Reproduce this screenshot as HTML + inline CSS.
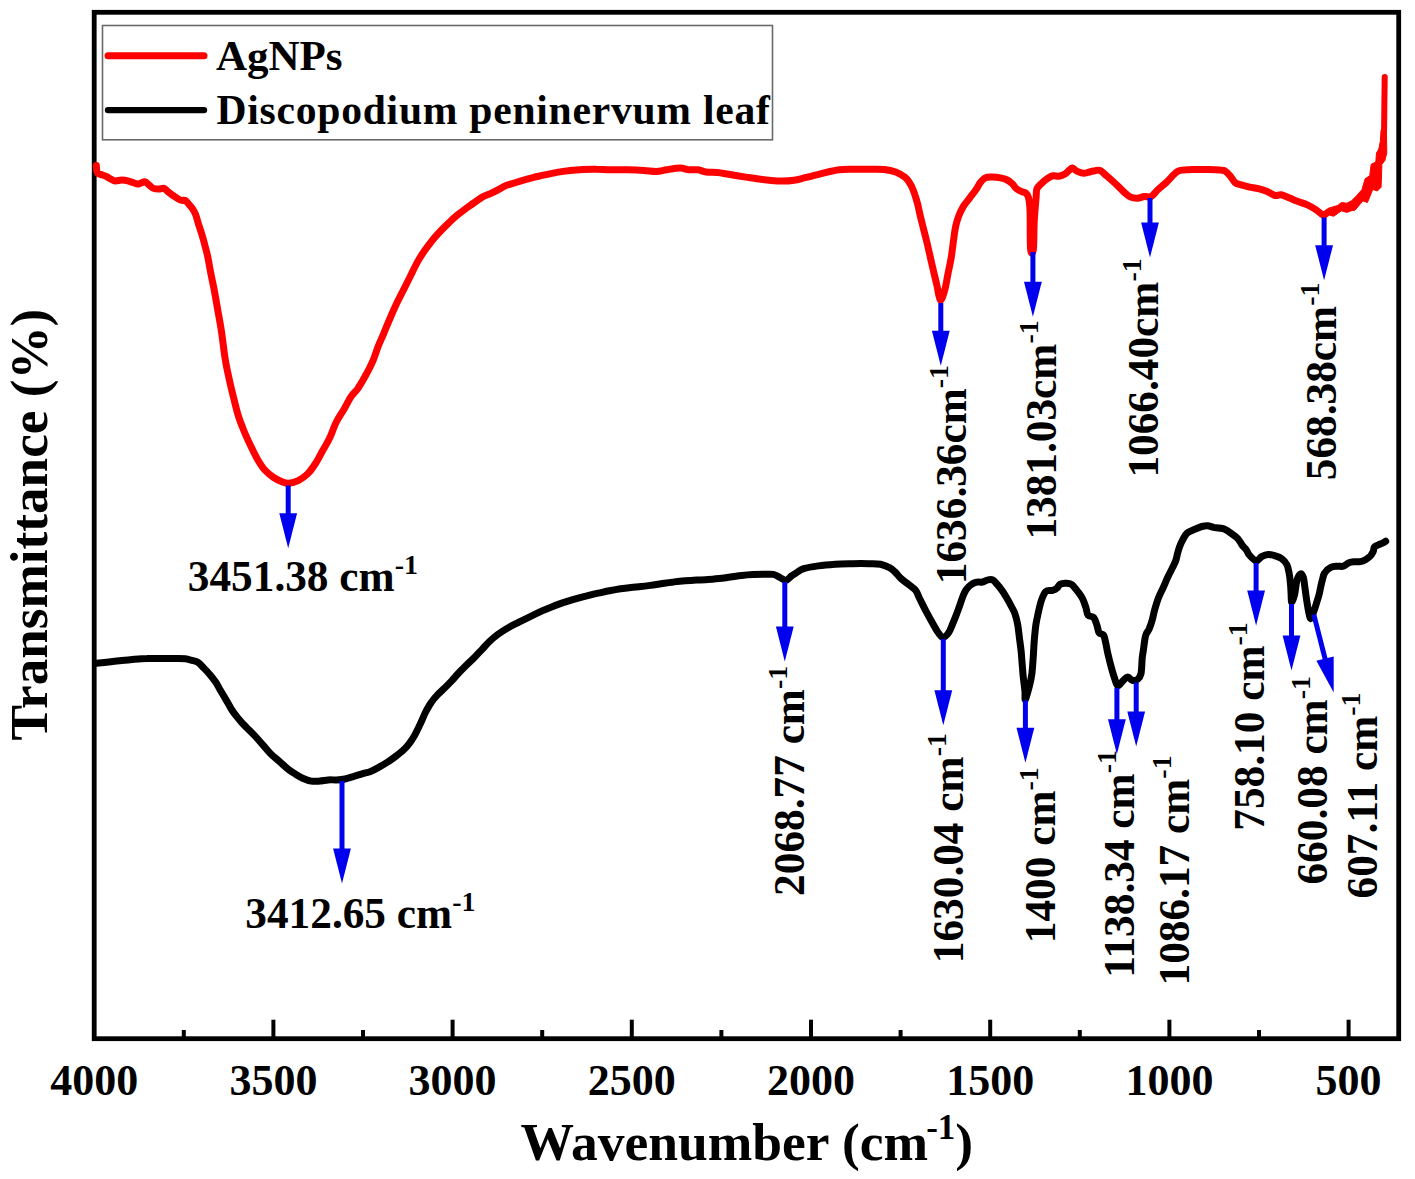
<!DOCTYPE html>
<html><head><meta charset="utf-8"><style>
html,body{margin:0;padding:0;background:#fff;width:1415px;height:1179px;overflow:hidden}
svg{display:block}
text{font-family:"Liberation Serif",serif;font-weight:bold;fill:#000}
</style></head><body>
<svg width="1415" height="1179" viewBox="0 0 1415 1179">
<rect x="94.2" y="12.3" width="1304.5" height="1026.4" fill="none" stroke="#000" stroke-width="4.8"/>
<g stroke="#000" stroke-width="4"><line x1="183.8" y1="1037" x2="183.8" y2="1030.0"/><line x1="273.4" y1="1037" x2="273.4" y2="1019.7"/><line x1="363.0" y1="1037" x2="363.0" y2="1030.0"/><line x1="452.6" y1="1037" x2="452.6" y2="1019.7"/><line x1="542.2" y1="1037" x2="542.2" y2="1030.0"/><line x1="631.8" y1="1037" x2="631.8" y2="1019.7"/><line x1="721.4" y1="1037" x2="721.4" y2="1030.0"/><line x1="811.0" y1="1037" x2="811.0" y2="1019.7"/><line x1="900.6" y1="1037" x2="900.6" y2="1030.0"/><line x1="990.2" y1="1037" x2="990.2" y2="1019.7"/><line x1="1079.8" y1="1037" x2="1079.8" y2="1030.0"/><line x1="1169.4" y1="1037" x2="1169.4" y2="1019.7"/><line x1="1259.0" y1="1037" x2="1259.0" y2="1030.0"/><line x1="1348.6" y1="1037" x2="1348.6" y2="1019.7"/></g>
<g font-size="44" text-anchor="middle"><text x="94.2" y="1094.8">4000</text><text x="273.4" y="1094.8">3500</text><text x="452.6" y="1094.8">3000</text><text x="631.8" y="1094.8">2500</text><text x="811.0" y="1094.8">2000</text><text x="990.2" y="1094.8">1500</text><text x="1169.4" y="1094.8">1000</text><text x="1348.6" y="1094.8">500</text></g>
<text x="520.5" y="1160" font-size="53.5">Wavenumber (cm<tspan font-size="35" dx="-2" dy="-21.5">-1</tspan><tspan dy="21.5">)</tspan></text>
<text transform="translate(47.3,740.5) rotate(-90)" font-size="53.2">Transmittance (%)</text>
<rect x="102.5" y="25.5" width="670" height="114.3" fill="none" stroke="#6a6a6a" stroke-width="1.6"/>
<line x1="108" y1="55.8" x2="204" y2="55.8" stroke="#f00" stroke-width="7" stroke-linecap="round"/>
<line x1="108" y1="110.1" x2="204" y2="110.1" stroke="#000" stroke-width="6.4" stroke-linecap="round"/>
<text x="216" y="69.8" font-size="43">AgNPs</text>
<text x="216.5" y="124.3" font-size="41.6" letter-spacing="0.75">Discopodium peninervum leaf</text>
<path d="M96.3,165.5 C96.4,166.4 96.5,169.6 96.8,171.0 C97.1,172.4 97.2,173.0 98.2,173.7 C99.2,174.4 101.1,174.5 102.5,175.0 C103.9,175.5 105.3,176.0 106.7,176.7 C108.1,177.4 109.6,178.5 111.0,179.2 C112.4,179.9 113.4,180.8 115.2,180.9 C117.0,181.1 119.5,180.1 121.6,180.1 C123.7,180.1 125.8,180.4 127.9,180.9 C130.0,181.4 132.5,182.5 134.3,183.0 C136.1,183.5 136.7,184.1 138.5,183.9 C140.3,183.7 143.1,181.5 144.9,181.7 C146.7,181.9 147.7,184.0 149.1,185.1 C150.5,186.2 151.9,187.7 153.5,188.4 C155.1,189.1 157.0,189.1 158.8,189.1 C160.6,189.1 162.6,188.0 164.1,188.4 C165.6,188.8 166.2,190.4 167.7,191.6 C169.2,192.8 171.2,194.3 173.0,195.5 C174.8,196.7 176.8,198.2 178.3,199.0 C179.8,199.8 180.6,200.2 181.8,200.4 C183.0,200.6 184.1,199.8 185.3,200.4 C186.5,201.1 187.7,202.9 188.9,204.3 C190.1,205.7 191.3,206.9 192.4,208.6 C193.5,210.3 194.5,211.7 195.6,214.5 C196.7,217.3 197.8,221.9 198.9,225.4 C200.0,228.9 201.2,232.2 202.2,235.6 C203.2,239.0 204.1,242.4 205.0,245.8 C205.9,249.2 206.7,251.8 207.6,256.0 C208.5,260.1 209.2,264.9 210.3,270.7 C211.4,276.5 213.1,284.2 214.4,291.0 C215.7,297.8 216.8,304.6 218.0,311.4 C219.2,318.2 220.3,323.8 221.5,331.7 C222.7,339.6 223.9,351.4 225.2,359.1 C226.4,366.9 227.6,371.8 229.0,378.2 C230.4,384.6 231.9,390.9 233.5,397.3 C235.1,403.7 236.7,410.7 238.5,416.4 C240.3,422.1 242.3,426.8 244.3,431.7 C246.3,436.6 248.5,441.2 250.6,445.7 C252.7,450.1 254.7,454.4 257.0,458.4 C259.3,462.4 261.8,466.6 264.6,469.8 C267.4,473.0 270.6,475.5 273.6,477.5 C276.6,479.5 280.0,480.9 282.5,481.9 C285.0,482.8 286.2,483.4 288.8,483.2 C291.4,483.0 295.0,482.2 298.1,480.7 C301.2,479.1 304.7,476.8 307.6,473.9 C310.6,470.9 313.3,466.9 315.8,463.0 C318.3,459.1 320.3,454.9 322.6,450.8 C324.9,446.7 327.1,443.4 329.4,438.6 C331.7,433.9 333.7,427.3 336.2,422.3 C338.7,417.3 341.8,413.0 344.3,408.7 C346.8,404.4 348.8,399.9 351.1,396.5 C353.4,393.1 355.4,392.0 357.9,388.4 C360.4,384.8 363.5,379.3 366.0,374.8 C368.5,370.3 370.8,365.9 372.8,361.2 C374.8,356.4 376.4,350.9 378.2,346.3 C380.0,341.7 381.6,338.6 383.6,333.8 C385.6,329.0 388.1,322.7 390.4,317.5 C392.6,312.3 394.9,307.3 397.1,302.6 C399.4,297.9 401.6,293.6 403.9,289.1 C406.2,284.6 408.4,280.0 410.7,275.5 C413.0,271.0 415.2,266.0 417.5,261.9 C419.8,257.8 421.8,254.7 424.3,251.1 C426.8,247.5 429.7,243.5 432.4,240.2 C435.1,236.9 437.8,234.0 440.6,231.0 C443.4,228.1 446.2,225.3 449.1,222.6 C451.9,219.8 455.0,217.0 458.0,214.6 C460.9,212.2 463.9,210.0 466.6,208.0 C469.4,206.0 471.9,204.2 474.4,202.5 C476.9,200.7 479.2,198.9 481.8,197.4 C484.4,195.9 487.2,195.0 490.0,193.8 C492.8,192.5 495.8,191.0 498.4,189.6 C501.1,188.3 503.4,186.6 506.1,185.5 C508.7,184.4 511.4,183.9 514.3,183.0 C517.2,182.1 520.3,181.1 523.6,180.2 C526.8,179.2 530.2,178.2 533.8,177.3 C537.3,176.5 541.0,175.8 544.8,174.9 C548.6,174.1 552.5,173.1 556.7,172.4 C560.9,171.6 565.5,170.9 570.0,170.4 C574.5,169.9 579.1,169.6 583.5,169.4 C588.0,169.2 592.0,169.1 596.5,169.2 C600.9,169.2 604.9,169.7 610.0,169.8 C615.1,169.9 621.4,169.7 627.0,169.8 C632.6,169.9 639.0,170.1 643.9,170.4 C648.8,170.7 652.6,171.6 656.4,171.5 C660.2,171.4 662.5,170.4 666.5,169.8 C670.5,169.2 676.3,168.1 680.1,168.1 C683.9,168.1 686.2,169.5 689.2,169.8 C692.2,170.1 695.4,169.4 698.2,169.8 C701.0,170.2 702.9,171.5 706.1,172.0 C709.3,172.5 713.6,172.2 717.4,172.6 C721.2,173.0 724.0,173.6 728.7,174.3 C733.4,175.1 741.0,176.3 745.7,177.1 C750.4,177.8 752.7,178.2 757.0,178.8 C761.3,179.4 767.0,180.1 771.3,180.5 C775.6,180.9 778.8,181.1 782.6,181.1 C786.4,181.1 790.1,180.9 793.9,180.3 C797.7,179.7 801.4,178.6 805.2,177.7 C809.0,176.8 812.7,175.8 816.5,174.9 C820.3,174.0 824.0,172.8 827.8,172.0 C831.6,171.2 835.4,170.3 839.2,169.8 C843.0,169.3 845.8,169.3 850.5,169.2 C855.2,169.1 861.8,169.2 867.4,169.2 C873.0,169.2 879.7,168.9 884.4,169.4 C889.1,169.9 892.3,170.7 895.7,172.0 C899.1,173.3 902.5,175.4 904.7,177.1 C906.9,178.8 907.7,180.1 909.0,182.0 C910.3,183.9 911.4,185.5 912.7,188.8 C914.1,192.1 915.8,197.4 917.1,202.0 C918.4,206.6 919.3,211.8 920.4,216.4 C921.5,221.0 922.6,225.2 923.7,229.6 C924.8,234.0 925.9,238.2 927.0,242.8 C928.1,247.4 929.2,252.3 930.3,257.1 C931.4,261.9 932.5,266.7 933.6,271.5 C934.7,276.3 935.9,281.0 937.0,285.8 C938.1,290.6 939.0,299.4 940.3,300.1 C941.6,300.8 943.4,294.6 944.7,290.2 C946.0,285.8 946.9,279.2 948.0,273.7 C949.1,268.2 950.4,262.6 951.3,257.1 C952.2,251.6 952.8,245.7 953.5,240.6 C954.2,235.5 954.8,230.5 955.7,226.3 C956.6,222.1 957.7,218.6 959.0,215.3 C960.3,212.0 961.6,209.4 963.4,206.4 C965.2,203.4 967.8,200.5 970.0,197.6 C972.2,194.7 974.9,191.2 976.6,188.8 C978.3,186.4 978.6,184.8 980.0,183.0 C981.4,181.2 983.2,178.9 985.2,177.9 C987.2,176.9 989.5,177.1 992.0,177.1 C994.5,177.1 997.9,177.4 1000.4,177.9 C1002.9,178.4 1005.2,179.0 1007.2,180.0 C1009.2,181.0 1010.7,182.3 1012.3,183.8 C1013.9,185.3 1015.0,187.6 1016.6,188.9 C1018.2,190.2 1020.0,190.8 1021.6,191.5 C1023.2,192.2 1024.8,192.2 1025.9,193.2 C1027.0,194.2 1027.7,194.6 1028.4,197.4 C1029.1,200.2 1029.6,201.4 1030.0,210.0 C1030.4,218.6 1030.0,242.5 1030.6,249.0 C1031.2,255.5 1032.8,253.8 1033.4,249.0 C1034.0,244.2 1033.8,228.6 1034.3,220.0 C1034.8,211.4 1035.7,202.6 1036.1,197.4 C1036.5,192.2 1036.1,191.2 1036.9,188.9 C1037.8,186.6 1039.5,185.5 1041.2,183.8 C1042.9,182.1 1045.1,180.0 1047.1,178.7 C1049.1,177.4 1051.0,176.2 1053.0,175.8 C1055.0,175.4 1057.0,176.5 1059.0,176.2 C1061.0,175.9 1063.2,175.1 1064.9,174.1 C1066.6,173.1 1067.8,171.3 1069.1,170.3 C1070.4,169.3 1071.2,168.0 1072.5,168.1 C1073.8,168.2 1075.0,170.2 1076.8,171.1 C1078.6,171.9 1081.5,173.0 1083.6,173.2 C1085.7,173.3 1087.6,172.4 1089.5,172.0 C1091.4,171.6 1093.2,170.9 1095.0,170.7 C1096.8,170.4 1098.2,169.6 1100.2,170.5 C1102.2,171.4 1104.2,173.8 1107.0,176.2 C1109.8,178.6 1114.3,182.6 1117.1,185.2 C1119.9,187.8 1121.6,190.0 1123.9,192.0 C1126.2,194.0 1128.4,196.1 1130.7,197.1 C1133.0,198.1 1135.2,198.3 1137.5,198.2 C1139.8,198.1 1142.0,196.8 1144.3,196.5 C1146.6,196.2 1148.8,197.6 1151.1,196.5 C1153.3,195.4 1155.2,192.2 1157.8,189.8 C1160.4,187.4 1163.5,184.9 1166.9,181.8 C1170.3,178.7 1174.1,173.1 1178.2,171.1 C1182.3,169.1 1186.7,169.8 1191.8,169.6 C1196.9,169.3 1204.0,169.5 1208.7,169.6 C1213.4,169.7 1217.3,169.9 1220.0,170.1 C1222.7,170.3 1223.4,169.9 1225.1,170.9 C1226.8,171.9 1228.5,174.0 1230.2,176.0 C1231.9,178.0 1233.5,181.3 1235.3,182.8 C1237.1,184.3 1238.8,184.2 1241.2,184.9 C1243.6,185.6 1246.9,186.5 1249.7,187.1 C1252.5,187.7 1255.4,188.0 1258.2,188.7 C1261.0,189.4 1263.8,190.2 1266.6,191.3 C1269.4,192.4 1272.7,194.9 1275.1,195.5 C1277.5,196.1 1278.7,194.3 1281.1,194.7 C1283.5,195.1 1286.8,197.0 1289.6,198.1 C1292.4,199.2 1295.0,200.4 1298.0,201.5 C1301.0,202.6 1304.6,203.6 1307.4,204.9 C1310.2,206.2 1312.6,207.6 1315.0,209.1 C1317.4,210.6 1320.2,213.2 1321.8,214.2 C1323.3,215.2 1322.9,215.6 1324.3,215.0 C1325.7,214.4 1328.7,211.4 1330.3,210.8 C1331.9,210.2 1333.4,211.4 1334.0,211.5" fill="none" stroke="#f00" stroke-width="7" stroke-linejoin="round" stroke-linecap="round"/>
<path d="M1330.0,207.8 L1337.6,205.5 L1341.4,202.5 L1346.8,203.2 L1351.4,200.9 L1356.7,195.6 L1362.0,189.5 L1365.1,178.8 L1369.7,175.8 L1371.2,164.3 L1375.8,162.0 L1376.5,152.9 L1378.8,149.1 L1380.3,141.4 L1381.1,130.0 L1386.4,130.0 L1386.8,152.9 L1384.9,160.5 L1381.9,164.3 L1381.1,187.2 L1377.3,191.0 L1372.7,189.5 L1369.7,197.1 L1367.4,202.5 L1362.8,200.9 L1359.0,205.5 L1355.2,210.1 L1351.4,210.8 L1346.8,212.4 L1341.4,210.8 L1333.8,216.2 L1330.0,215.4Z" fill="#f00" stroke="#f00" stroke-width="1" stroke-linejoin="round"/>
<path d="M1383.8,134.0 C1383.8,133.0 1384.0,133.6 1384.1,128.0 C1384.2,122.5 1384.3,109.2 1384.4,100.7 C1384.5,92.2 1384.7,81.0 1384.7,77.0" fill="none" stroke="#f00" stroke-width="6" stroke-linejoin="round" stroke-linecap="round"/>
<path d="M96.2,663.3 C98.3,663.1 104.7,662.4 109.0,661.9 C113.2,661.5 117.5,661.0 121.7,660.5 C125.9,660.1 130.2,659.7 134.4,659.3 C138.6,659.0 142.9,658.7 147.1,658.6 C151.4,658.4 155.6,658.4 159.9,658.4 C164.1,658.4 168.4,658.5 172.6,658.5 C176.8,658.6 182.2,658.4 185.3,658.7 C188.4,659.0 189.0,659.6 191.0,660.2 C193.0,660.8 195.2,660.8 197.4,662.1 C199.6,663.4 201.7,665.9 203.9,668.1 C206.1,670.3 208.4,672.8 210.4,675.2 C212.4,677.6 214.2,679.9 215.8,682.3 C217.4,684.7 218.5,687.0 219.9,689.4 C221.3,691.8 222.7,694.2 224.1,696.6 C225.5,699.0 226.9,701.3 228.3,703.7 C229.7,706.1 230.8,708.4 232.4,710.8 C234.0,713.2 236.1,715.8 237.8,717.9 C239.5,720.0 240.9,721.5 242.5,723.3 C244.1,725.0 245.3,726.3 247.4,728.4 C249.5,730.5 252.5,733.4 255.1,736.1 C257.7,738.9 260.2,742.0 262.8,744.9 C265.4,747.8 267.8,751.0 270.6,753.7 C273.4,756.5 276.5,758.8 279.4,761.4 C282.3,764.0 285.6,767.1 288.2,769.2 C290.8,771.3 292.7,772.4 295.1,773.9 C297.5,775.4 300.0,777.0 302.7,778.2 C305.4,779.4 308.4,780.6 311.2,781.1 C314.0,781.6 316.9,781.3 319.7,781.1 C322.5,780.9 325.4,780.1 328.2,779.9 C331.0,779.7 333.8,780.0 336.6,779.9 C339.4,779.8 342.3,779.6 345.1,779.0 C347.9,778.4 350.8,777.4 353.6,776.5 C356.4,775.6 359.3,774.8 362.1,773.9 C364.9,773.0 367.8,772.5 370.6,771.4 C373.4,770.3 376.3,768.6 379.1,767.1 C381.9,765.6 384.7,763.9 387.5,762.1 C390.3,760.3 393.6,757.9 396.0,756.1 C398.4,754.3 399.8,753.1 401.7,751.5 C403.5,749.9 405.2,748.5 406.9,746.5 C408.6,744.5 410.4,742.3 412.0,739.7 C413.7,737.1 415.4,734.0 416.9,730.9 C418.5,727.9 420.0,724.4 421.5,721.2 C423.0,717.9 424.4,714.5 426.0,711.3 C427.7,708.2 429.3,705.1 431.3,702.4 C433.2,699.6 435.4,697.1 437.7,694.7 C440.0,692.2 442.6,690.1 444.9,687.7 C447.3,685.4 449.6,683.0 451.9,680.6 C454.2,678.1 456.3,675.5 458.7,673.0 C461.1,670.5 463.7,667.9 466.3,665.3 C468.9,662.7 471.8,660.1 474.4,657.5 C477.0,654.9 479.4,652.2 481.9,649.6 C484.4,647.0 486.6,644.3 489.2,641.8 C491.8,639.2 494.6,636.8 497.7,634.5 C500.8,632.2 504.3,630.0 507.8,628.0 C511.4,625.9 515.2,624.1 518.9,622.2 C522.6,620.3 526.4,618.5 530.2,616.7 C534.0,614.8 537.7,613.0 541.5,611.2 C545.3,609.5 549.0,607.9 552.8,606.4 C556.6,604.9 560.4,603.6 564.1,602.3 C567.9,601.1 571.7,600.0 575.5,598.9 C579.2,597.8 583.0,596.8 586.8,595.9 C590.6,594.9 594.3,594.0 598.1,593.2 C601.9,592.4 605.7,591.5 609.4,590.8 C613.1,590.1 616.9,589.4 620.5,588.8 C624.1,588.3 627.5,587.9 631.0,587.5 C634.4,587.1 637.6,586.9 641.0,586.5 C644.5,586.2 647.9,585.7 651.5,585.2 C655.1,584.7 658.9,584.1 662.6,583.5 C666.3,582.9 670.1,582.3 673.9,581.9 C677.7,581.4 681.4,581.0 685.2,580.7 C689.0,580.5 692.7,580.3 696.5,580.1 C700.3,580.0 704.1,579.9 707.8,579.6 C711.6,579.4 715.4,579.0 719.2,578.6 C722.9,578.2 726.7,577.5 730.5,577.0 C734.3,576.5 738.1,575.9 741.8,575.5 C745.5,575.1 749.3,574.8 753.0,574.6 C756.6,574.4 760.1,574.3 763.5,574.3 C766.9,574.3 770.6,573.8 773.4,574.4 C776.2,575.0 778.1,576.6 780.2,577.6 C782.3,578.6 784.0,580.7 785.9,580.4 C787.8,580.1 789.9,577.1 791.5,575.9 C793.1,574.7 793.7,574.5 795.7,573.3 C797.7,572.1 799.8,569.9 803.6,568.7 C807.4,567.5 813.0,566.6 818.3,565.9 C823.6,565.1 829.6,564.6 835.2,564.2 C840.9,563.8 846.5,563.8 852.2,563.7 C857.9,563.6 864.5,563.6 869.2,563.7 C873.9,563.8 877.1,563.6 880.5,564.2 C883.9,564.9 887.0,566.3 889.5,567.6 C892.0,568.9 893.3,570.3 895.2,572.1 C897.1,573.9 898.5,576.3 900.8,578.4 C903.0,580.5 906.2,582.6 908.7,584.6 C911.2,586.6 913.6,587.8 915.5,590.2 C917.4,592.7 918.3,595.9 920.0,599.3 C921.7,602.7 923.6,606.6 925.7,610.6 C927.8,614.6 930.4,619.4 932.5,623.0 C934.6,626.6 936.3,630.1 938.1,632.5 C939.9,634.9 941.4,637.5 943.1,637.5 C944.9,637.5 947.0,635.0 948.6,632.8 C950.2,630.5 951.2,627.2 952.6,624.0 C954.0,620.8 955.5,617.1 956.7,613.8 C958.0,610.5 959.0,607.4 960.1,604.3 C961.2,601.1 962.4,597.5 963.5,594.9 C964.6,592.3 965.6,590.4 966.9,588.7 C968.1,587.0 969.5,585.8 971.0,584.7 C972.5,583.6 973.8,582.8 975.7,582.3 C977.6,581.8 980.5,582.4 982.5,582.0 C984.5,581.6 986.2,580.2 987.9,579.9 C989.6,579.5 991.1,579.1 992.7,579.9 C994.3,580.7 995.8,582.9 997.4,584.7 C999.0,586.5 1000.6,588.5 1002.2,590.8 C1003.8,593.0 1005.4,595.7 1006.9,598.2 C1008.4,600.7 1009.7,603.1 1011.0,605.7 C1012.3,608.3 1013.8,610.5 1014.9,613.6 C1016.0,616.8 1017.0,620.7 1017.7,624.6 C1018.4,628.5 1018.8,632.6 1019.3,636.8 C1019.8,641.0 1020.5,645.6 1021.0,650.0 C1021.5,654.4 1021.7,658.8 1022.1,663.2 C1022.5,667.6 1022.7,671.9 1023.2,676.5 C1023.7,681.1 1024.5,686.9 1024.9,690.8 C1025.3,694.6 1024.6,700.5 1025.4,699.6 C1026.2,698.7 1028.5,689.5 1029.6,685.3 C1030.7,681.1 1031.2,678.9 1031.8,674.3 C1032.4,669.7 1032.8,663.2 1033.2,657.7 C1033.6,652.2 1033.8,646.7 1034.2,641.2 C1034.7,635.7 1035.2,629.2 1035.9,624.6 C1036.6,620.0 1037.2,617.6 1038.1,613.6 C1039.0,609.6 1040.1,604.1 1041.4,600.4 C1042.7,596.7 1044.0,593.2 1045.8,591.5 C1047.6,589.8 1050.6,590.9 1052.4,590.4 C1054.2,589.9 1055.5,589.2 1056.8,588.2 C1058.1,587.2 1058.8,585.1 1060.1,584.3 C1061.4,583.5 1063.0,583.2 1064.9,583.2 C1066.8,583.2 1069.3,582.8 1071.5,584.3 C1073.7,585.8 1076.4,589.7 1078.2,592.1 C1080.0,594.5 1081.3,596.1 1082.6,598.7 C1083.9,601.3 1085.0,604.8 1085.9,607.5 C1086.8,610.2 1086.8,613.6 1088.1,615.2 C1089.4,616.9 1092.1,615.8 1093.6,617.4 C1095.1,619.0 1096.0,622.5 1096.9,625.1 C1097.8,627.7 1098.0,631.1 1099.1,632.8 C1100.2,634.4 1102.4,633.3 1103.5,635.0 C1104.6,636.7 1105.0,639.7 1105.7,642.8 C1106.4,645.9 1107.0,649.8 1107.9,653.8 C1108.8,657.8 1110.1,663.0 1111.2,667.0 C1112.3,671.0 1113.4,674.9 1114.5,678.0 C1115.6,681.1 1116.3,685.4 1117.8,685.8 C1119.3,686.2 1121.7,681.8 1123.4,680.3 C1125.1,678.8 1126.3,676.9 1127.8,676.9 C1129.3,676.9 1130.5,679.9 1132.2,680.3 C1133.9,680.7 1136.2,680.3 1137.7,679.2 C1139.2,678.1 1140.2,677.1 1141.0,673.6 C1141.8,670.1 1141.8,662.2 1142.2,658.2 C1142.6,654.2 1143.1,652.3 1143.5,649.3 C1143.9,646.3 1144.3,642.9 1144.7,640.4 C1145.1,637.9 1145.2,636.5 1146.0,634.5 C1146.8,632.5 1148.2,631.1 1149.3,628.6 C1150.3,626.1 1151.4,622.8 1152.3,619.7 C1153.2,616.6 1153.6,613.6 1154.6,610.0 C1155.6,606.4 1157.1,601.5 1158.5,597.8 C1159.9,594.1 1161.7,591.0 1163.2,587.6 C1164.7,584.2 1166.0,580.9 1167.6,577.5 C1169.2,574.1 1171.3,570.1 1172.7,567.3 C1174.1,564.5 1175.0,562.8 1175.8,560.5 C1176.6,558.2 1176.9,556.0 1177.5,553.7 C1178.1,551.5 1178.7,549.2 1179.5,547.0 C1180.3,544.8 1181.2,542.5 1182.5,540.2 C1183.8,537.9 1184.7,535.1 1187.0,533.2 C1189.3,531.3 1193.6,529.8 1196.1,528.7 C1198.6,527.6 1200.0,527.0 1201.9,526.5 C1203.8,526.0 1205.8,525.7 1207.7,525.8 C1209.6,525.9 1211.5,526.9 1213.4,527.3 C1215.3,527.7 1217.3,527.6 1219.2,528.0 C1221.1,528.4 1223.0,528.4 1225.0,529.4 C1227.0,530.4 1229.3,532.1 1231.5,533.7 C1233.7,535.3 1236.2,536.9 1238.0,538.8 C1239.8,540.7 1240.9,543.4 1242.3,545.3 C1243.7,547.2 1245.2,548.4 1246.4,550.0 C1247.6,551.6 1247.7,553.2 1249.3,555.0 C1250.9,556.8 1254.2,560.6 1256.2,560.9 C1258.2,561.2 1259.6,557.7 1261.6,556.6 C1263.6,555.5 1265.8,554.5 1268.1,554.4 C1270.4,554.3 1273.0,555.2 1275.3,555.9 C1277.6,556.6 1279.9,557.3 1281.8,558.7 C1283.7,560.1 1285.6,562.2 1286.8,564.5 C1288.0,566.8 1288.4,569.3 1289.0,572.4 C1289.6,575.5 1290.1,579.6 1290.4,583.2 C1290.8,586.8 1290.9,590.9 1291.1,594.1 C1291.3,597.4 1291.2,602.7 1291.8,602.7 C1292.4,602.7 1293.8,597.8 1294.7,594.1 C1295.6,590.4 1295.9,583.8 1296.9,580.4 C1297.9,577.0 1299.4,574.4 1300.5,573.9 C1301.6,573.4 1302.7,575.4 1303.4,577.5 C1304.1,579.6 1304.3,583.4 1304.8,586.8 C1305.3,590.2 1305.7,593.7 1306.3,597.7 C1306.9,601.7 1307.7,607.1 1308.4,610.6 C1309.1,614.1 1309.8,618.4 1310.6,618.6 C1311.4,618.9 1312.5,614.6 1313.5,612.1 C1314.5,609.6 1315.5,606.4 1316.4,603.4 C1317.4,600.4 1318.5,596.8 1319.2,594.1 C1319.9,591.4 1320.2,589.2 1320.7,587.0 C1321.2,584.8 1321.4,583.3 1322.1,581.0 C1322.8,578.7 1323.1,575.3 1324.6,573.0 C1326.0,570.7 1328.6,568.4 1330.8,567.3 C1333.0,566.2 1335.5,566.4 1337.6,566.2 C1339.7,566.0 1341.4,566.8 1343.3,566.2 C1345.2,565.6 1347.0,563.5 1348.9,562.8 C1350.8,562.0 1352.7,561.9 1354.6,561.7 C1356.5,561.5 1358.3,562.1 1360.2,561.7 C1362.1,561.3 1364.2,560.4 1365.9,559.4 C1367.6,558.4 1369.2,557.3 1370.4,556.0 C1371.6,554.7 1372.5,553.0 1373.2,551.5 C1373.9,550.0 1373.5,548.1 1374.4,547.0 C1375.4,545.9 1377.5,545.4 1378.9,544.7 C1380.3,544.0 1381.7,543.6 1382.8,543.0 C1383.9,542.4 1385.2,541.6 1385.7,541.3" fill="none" stroke="#000" stroke-width="7" stroke-linejoin="round" stroke-linecap="round"/>
<g><line x1="288.2" y1="485.5" x2="288.2" y2="514.3" stroke="#0000ee" stroke-width="5"/><path d="M279.3,513.3 L297.1,513.3 L288.2,548.3Z" fill="#0000ee"/><line x1="940.8" y1="303.0" x2="940.8" y2="331.8" stroke="#0000ee" stroke-width="5"/><path d="M931.9,330.8 L949.7,330.8 L940.8,365.8Z" fill="#0000ee"/><line x1="1032.9" y1="252.0" x2="1032.9" y2="282.8" stroke="#0000ee" stroke-width="5"/><path d="M1024.0,281.8 L1041.8,281.8 L1032.9,316.8Z" fill="#0000ee"/><line x1="1150.0" y1="198.0" x2="1150.0" y2="223.5" stroke="#0000ee" stroke-width="5"/><path d="M1141.1,222.5 L1158.9,222.5 L1150.0,257.5Z" fill="#0000ee"/><line x1="1324.1" y1="217.5" x2="1324.1" y2="246.3" stroke="#0000ee" stroke-width="5"/><path d="M1315.2,245.3 L1333.0,245.3 L1324.1,280.3Z" fill="#0000ee"/><line x1="342.0" y1="781.0" x2="342.0" y2="849.4" stroke="#0000ee" stroke-width="5"/><path d="M333.1,848.4 L350.9,848.4 L342.0,883.4Z" fill="#0000ee"/><line x1="784.8" y1="582.0" x2="784.8" y2="627.5" stroke="#0000ee" stroke-width="5"/><path d="M775.9,626.5 L793.7,626.5 L784.8,661.5Z" fill="#0000ee"/><line x1="943.3" y1="639.0" x2="943.3" y2="691.3" stroke="#0000ee" stroke-width="5"/><path d="M934.4,690.3 L952.2,690.3 L943.3,725.3Z" fill="#0000ee"/><line x1="1025.4" y1="700.5" x2="1025.4" y2="728.8" stroke="#0000ee" stroke-width="5"/><path d="M1016.5,727.8 L1034.3,727.8 L1025.4,762.8Z" fill="#0000ee"/><line x1="1116.9" y1="688.0" x2="1116.9" y2="720.3" stroke="#0000ee" stroke-width="5"/><path d="M1108.0,719.3 L1125.8,719.3 L1116.9,754.3Z" fill="#0000ee"/><line x1="1136.2" y1="682.5" x2="1136.2" y2="712.5" stroke="#0000ee" stroke-width="5"/><path d="M1127.3,711.5 L1145.1,711.5 L1136.2,746.5Z" fill="#0000ee"/><line x1="1256.1" y1="563.0" x2="1256.1" y2="591.5" stroke="#0000ee" stroke-width="5"/><path d="M1247.2,590.5 L1265.0,590.5 L1256.1,625.5Z" fill="#0000ee"/><line x1="1291.5" y1="604.0" x2="1291.5" y2="636.4" stroke="#0000ee" stroke-width="5"/><path d="M1282.6,635.4 L1300.4,635.4 L1291.5,670.4Z" fill="#0000ee"/><line x1="1313.8" y1="614.5" x2="1325.3" y2="659.6" stroke="#0000ee" stroke-width="5"/><path d="M1316.4,660.8 L1333.7,656.4 L1333.7,692.5Z" fill="#0000ee"/></g>
<g font-size="43.3"><text transform="translate(965.6,584.2) rotate(-90)">1636.36cm<tspan font-size="28" dy="-17.5">-1</tspan></text><text transform="translate(1055.5,539.6) rotate(-90)">1381.03cm<tspan font-size="28" dy="-17.5">-1</tspan></text><text transform="translate(1158.3,477.6) rotate(-90)">1066.40cm<tspan font-size="28" dy="-17.5">-1</tspan></text><text transform="translate(1336.4,480.2) rotate(-90)">568.38cm<tspan font-size="28" dy="-17.5">-1</tspan></text><text transform="translate(804.1,895.9) rotate(-90)">2068.77 cm<tspan font-size="28" dy="-17.5">-1</tspan></text><text transform="translate(963.0,963.2) rotate(-90)">1630.04 cm<tspan font-size="28" dy="-17.5">-1</tspan></text><text transform="translate(1055.4,943.2) rotate(-90)">1400 cm<tspan font-size="28" dy="-17.5">-1</tspan></text><text transform="translate(1133.7,977.8) rotate(-90)">1138.34 cm<tspan font-size="28" dy="-17.5">-1</tspan></text><text transform="translate(1188.8,985.5) rotate(-90)">1086.17 cm<tspan font-size="28" dy="-17.5">-1</tspan></text><text transform="translate(1264.2,830.7) rotate(-90)">758.10 cm<tspan font-size="28" dy="-17.5">-1</tspan></text><text transform="translate(1327.2,884.5) rotate(-90)">660.08 cm<tspan font-size="28" dy="-17.5">-1</tspan></text><text transform="translate(1377.3,898.5) rotate(-90)">607.11 cm<tspan font-size="28" dy="-17.5">-1</tspan></text><text x="187.8" y="591.2">3451.38 cm<tspan font-size="28" dy="-17.5">-1</tspan></text><text x="245.3" y="928">3412.65 cm<tspan font-size="28" dy="-17.5">-1</tspan></text></g>
</svg>
</body></html>
